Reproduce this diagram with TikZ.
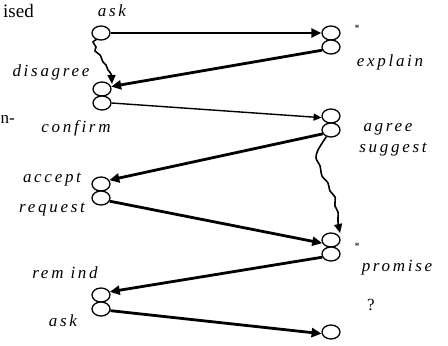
\documentclass[tikz,border=0pt]{standalone}
\usepackage{fontspec}
\setmainfont{Liberation Serif}
\newfontfamily\lab{Liberation Serif Italic}[LetterSpace=16]
\usetikzlibrary{shapes.geometric,arrows.meta}
\tikzset{
  ell/.style={ellipse,draw,line width=1.3pt,minimum width=18pt,minimum height=14pt,inner sep=0pt,fill=white},
  lbl/.style={font={\lab\fontsize{17}{17}\selectfont},inner sep=0pt},
  txt/.style={font={\fontsize{17}{17}\selectfont},inner sep=0pt},
  thickarr/.style={line width=2.8pt,-{Triangle[length=10pt,width=9pt]}},
  thinarr/.style={line width=1.4pt,-{Triangle[length=8pt,width=7pt]}},
  wavy/.style={line width=1.6pt,-{Triangle[length=9pt,width=8pt]}},
}
\begin{document}
\begin{tikzpicture}[x=1pt,y=-1pt]
\useasboundingbox (0,0) rectangle (448,346);
% circles
\node[ell] (L1) at (101,33) {};
\node[ell] (L2a) at (102,89) {};
\node[ell] (L2b) at (102,103) {};
\node[ell] (R1a) at (331,33) {};
\node[ell] (R1b) at (331,47) {};
\node[ell] (R2a) at (331,116) {};
\node[ell] (R2b) at (331,130) {};
\node[ell] (L3a) at (101,184) {};
\node[ell] (L3b) at (101,198) {};
\node[ell] (R3a) at (331,240) {};
\node[ell] (R3b) at (331,254) {};
\node[ell] (L4a) at (101,295) {};
\node[ell] (L4b) at (101,309) {};
\node[ell] (R4) at (331,332) {};
% labels
\node[lbl] (t1) at (112,11) {ask};
\node[lbl] (t2) at (51,72) {disagree};
\node[lbl] (t3) at (76,128) {confirm};
\node[txt,font={\fontsize{10}{10}\selectfont}] (s1) at (357,28) {*};
\node[lbl] (t4) at (390,62) {explain};
\node[lbl] (t5) at (388,129) {agree};
\node[lbl] (t6) at (393,150) {suggest};
\node[lbl] (t7) at (52,180) {accept};
\node[lbl] (t8) at (52,210) {request};
\node[lbl] (t9) at (65,273) {rem ind};
\node[lbl] (t10) at (63,321) {ask};
\node[txt,font={\fontsize{10}{10}\selectfont}] (s2) at (357,246) {*};
\node[lbl] (t11) at (397,268) {promise};
\node[txt] (q) at (371,305) {?};
\node[txt,font={\fontsize{19}{19}\selectfont},anchor=east] (e1) at (34,11) {ised};
\node[txt,anchor=west] (e2) at (0.5,119) {n-};
% connectors
\draw[thickarr] (L1.east) -- (R1a.west);
\draw[thickarr] (R1b.200) -- (L2a.15);
\draw[thinarr] (L2b.east) -- (R2a.190);
\draw[thickarr] (R2b.205) -- (L3a.25);
\draw[thickarr] (L3b.-20) -- (R3a.200);
\draw[thickarr] (R3b.200) -- (L4a.20);
\draw[thickarr] (L4b.-10) -- (R4.190);
\coordinate (w1) at (L1.235);
\draw[wavy] plot[smooth] coordinates {(w1) (93,42) (96,47) (95,51) (100,55) (103,62) (106,65) (108,70) (111,74) (112,84)};
\coordinate (w2) at (R2b.235);
\draw[wavy] plot[smooth] coordinates {(w2) (318,150) (316,158) (320,166) (322,176) (328,183) (330,191) (335,197) (335,206) (338,212) (338,222) (340,233)};
\end{tikzpicture}
\end{document}
